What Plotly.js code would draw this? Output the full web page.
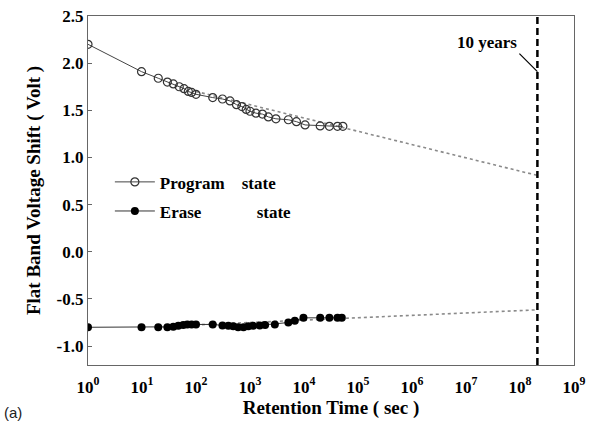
<!DOCTYPE html>
<html>
<head>
<meta charset="utf-8">
<script src="https://cdn.plot.ly/plotly-3.0.1.min.js"></script>
<style>html,body{margin:0;padding:0;background:#fff;}#chart{width:595px;height:426px;}</style>
</head>
<body>
<div id="chart"></div>
<script>
// Program state (time in sec, flat band shift in V)
const programTime = [1, 9.8, 20, 29.5, 38, 49, 60, 72, 83, 100, 204, 309, 427, 562, 708, 851, 1000, 1288, 1698, 2188, 3020, 5129, 7244, 10471, 19953, 29512, 41687, 52481];
const programShift = [2.20, 1.91, 1.84, 1.80, 1.78, 1.75, 1.73, 1.70, 1.69, 1.67, 1.635, 1.62, 1.60, 1.56, 1.54, 1.51, 1.49, 1.47, 1.46, 1.43, 1.41, 1.40, 1.38, 1.345, 1.335, 1.33, 1.33, 1.33];
// Erase state
const eraseTime = [1, 9.8, 20, 29.5, 38, 47, 58, 69, 83, 100, 204, 309, 398, 490, 603, 759, 933, 1148, 1514, 1905, 2884, 5129, 6761, 9772, 19953, 29512, 41687, 50119];
const eraseShift = [-0.80, -0.80, -0.80, -0.80, -0.795, -0.785, -0.775, -0.77, -0.77, -0.77, -0.77, -0.78, -0.785, -0.79, -0.80, -0.80, -0.79, -0.785, -0.78, -0.775, -0.77, -0.75, -0.73, -0.70, -0.70, -0.70, -0.70, -0.70];
// Extrapolation (fit) lines, end points
const fitTime = [100, 2.1e8];
const programFit = [1.70, 0.81];
const eraseFit = [-0.775, -0.615];
// 10 years marker
const tenYears = 2.1e8;
const yRange = [-1.2, 2.5];
const xTickVals = [1, 10, 100, 1e3, 1e4, 1e5, 1e6, 1e7, 1e8, 1e9];
const xTickText = ['10<sup>0</sup>','10<sup>1</sup>','10<sup>2</sup>','10<sup>3</sup>','10<sup>4</sup>','10<sup>5</sup>','10<sup>6</sup>','10<sup>7</sup>','10<sup>8</sup>','10<sup>9</sup>'];
const yTickVals = [-1.0, -0.5, 0.0, 0.5, 1.0, 1.5, 2.0, 2.5];

const serif = 'Liberation Serif, serif';
const sp = '\u00a0';

const traces = [
  {x: fitTime, y: programFit, mode: 'lines', line: {color: '#8a8a8a', width: 1.6, dash: 'dot'}, showlegend: false, hoverinfo: 'skip'},
  {x: fitTime, y: eraseFit, mode: 'lines', line: {color: '#8a8a8a', width: 1.6, dash: 'dot'}, showlegend: false, hoverinfo: 'skip'},
  {x: programTime, y: programShift, mode: 'lines+markers', name: 'Program' + sp.repeat(4) + 'state', legendgroup: 'p',
   line: {color: '#444', width: 1}, marker: {symbol: 'circle-open', size: 8, color: '#333', line: {width: 1.2}}},
  {x: eraseTime, y: eraseShift, mode: 'lines+markers', name: 'Erase' + sp.repeat(13) + 'state', legendgroup: 'e',
   line: {color: '#333', width: 1}, marker: {symbol: 'circle', size: 8, color: '#000'}},
  {x: [tenYears, tenYears], y: yRange, mode: 'lines', line: {color: '#000', width: 2.5, dash: '7px,4px'}, showlegend: false, hoverinfo: 'skip'}
];

const layout = {
  width: 595, height: 426,
  font: {family: serif},
  margin: {l: 88, r: 21, t: 16, b: 61},
  paper_bgcolor: '#fff', plot_bgcolor: '#fff',
  showlegend: true,
  legend: {x: 0.045, y: 0.575, xanchor: 'left', yanchor: 'top', bgcolor: 'rgba(0,0,0,0)',
           font: {family: serif, size: 17, color: '#000', weight: 700}, tracegroupgap: 4, itemwidth: 40},
  xaxis: {type: 'log', range: [0, 9], tickvals: xTickVals, ticktext: xTickText,
          ticks: 'outside', ticklen: 6, tickcolor: 'rgba(0,0,0,0)', showline: true, linecolor: '#666', linewidth: 1.2, mirror: true,
          showgrid: false, zeroline: false,
          tickfont: {family: serif, size: 17, color: '#000', weight: 700},
          title: {text: 'Retention Time ( sec )', font: {family: serif, size: 19, color: '#000', weight: 700}, standoff: 3}},
  xaxis2: {type: 'log', range: [0, 9], tickvals: xTickVals, overlaying: 'x', anchor: 'y', side: 'bottom',
          ticks: 'inside', ticklen: 4, tickcolor: '#666', showticklabels: false, showline: false,
          showgrid: false, zeroline: false},
  yaxis: {range: yRange, tickvals: yTickVals, ticktext: yTickVals.map(v => v.toFixed(1)),
          ticks: 'inside', ticklen: 4, tickcolor: '#666', showline: true, linecolor: '#666', linewidth: 1.2, mirror: true,
          showgrid: false, zeroline: false,
          tickfont: {family: serif, size: 17, color: '#000', weight: 700},
          title: {text: 'Flat Band Voltage Shift ( Volt )', font: {family: serif, size: 19, color: '#000', weight: 700}, standoff: 10}},
  annotations: [
    {x: Math.log10(tenYears), y: 1.91, xref: 'x', yref: 'y', text: '10 years', showarrow: true,
     arrowhead: 0, arrowwidth: 1.2, arrowcolor: '#000', ax: -18, ay: -18, xanchor: 'right', yanchor: 'bottom',
     font: {family: serif, size: 17, color: '#000', weight: 700}},
    {x: 0, y: 0, xref: 'paper', yref: 'paper', xanchor: 'left', yanchor: 'bottom', xshift: -86, yshift: -58,
     text: '(a)', showarrow: false, font: {family: 'Liberation Sans, sans-serif', size: 15, color: '#222'}}
  ]
};

Plotly.newPlot('chart', traces, layout, {displayModeBar: false, staticPlot: true});
</script>
</body>
</html>
